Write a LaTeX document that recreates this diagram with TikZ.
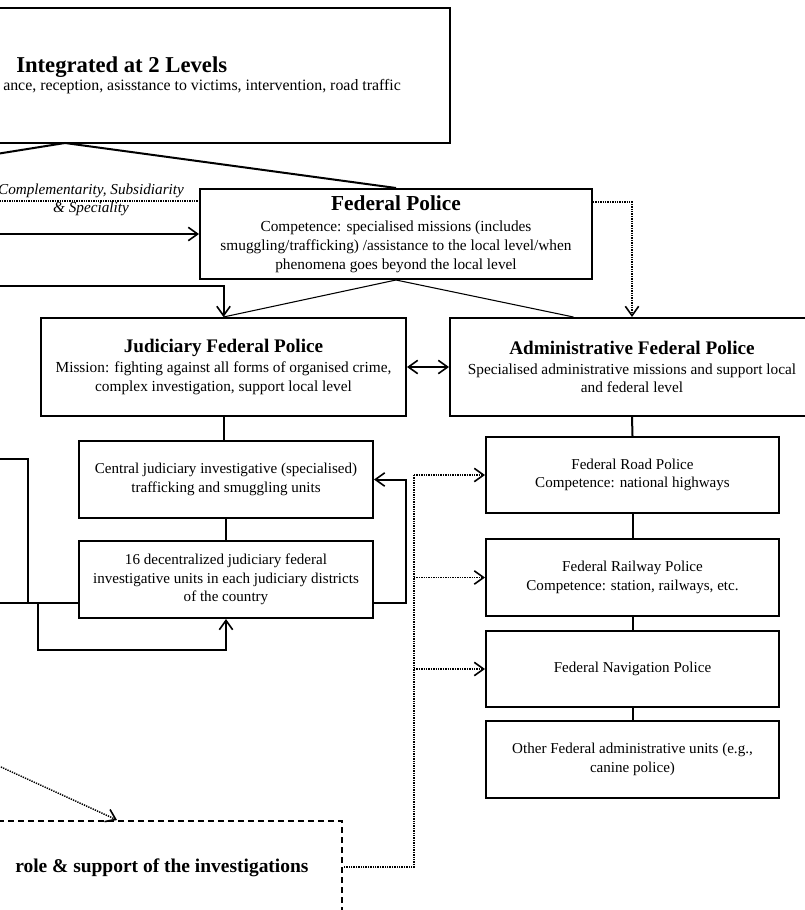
\documentclass[tikz,border=0pt]{standalone}
\usepackage{fontspec}
\setmainfont{Liberation Serif}
\usetikzlibrary{calc,arrows.meta}

\newcommand{\ttlfont}{\fontsize{14.4}{16}\selectfont\bfseries}

\begin{document}
\begin{tikzpicture}[x=0.75pt,y=-0.75pt,
  sz/.style 2 args={minimum width=#1*0.75pt,minimum height=#2*0.75pt},
  box/.style={draw,line width=1.5pt,align=center,inner sep=1pt,font=\fontsize{11.5}{14}\selectfont},
  unitbox/.style={box,font=\fontsize{11.3}{13.7}\selectfont},
  conn/.style={line width=1.5pt},
  fan/.style={line width=0.8pt},
  dots/.style={line width=1.1pt,dash pattern=on 1pt off 0.8pt},
  tip/.style={-{Straight Barb[length=7pt,width=10pt,line width=1.2pt]}},
  tips/.style={{Straight Barb[length=7pt,width=10pt,line width=1.2pt]}-{Straight Barb[length=7pt,width=10pt,line width=1.2pt]}}]
\useasboundingbox (0,0) rectangle (805,910);
\clip (0,0) rectangle (805,910);

% boxes
\node[box,sz={510}{135}] (lvl) at (195,75.5) {};
\node[anchor=base west,inner sep=0pt,font=\fontsize{17}{19}\selectfont\bfseries] (lvltitle) at (16,72) {Integrated at 2 Levels};
\node[anchor=base west,inner sep=0pt,font=\fontsize{11.9}{14}\selectfont] (lvltext) at (3,90) {ance, reception, asisstance to victims, intervention, road traffic};

\node[box,sz={392}{90}] (fed) at (396,234) {{\fontsize{16}{18}\selectfont\bfseries Federal Police}\\[2pt] Competence: specialised missions (includes\\ smuggling/trafficking) /assistance to the local level/when\\ phenomena goes beyond the local level};
\node[box,sz={365}{98}] (jud) at (223.5,367) {{\ttlfont Judiciary Federal Police}\\[1pt] Mission: fighting against all forms of organised crime,\\ complex investigation, support local level};
\node[box,sz={364}{98}] (adm) at (632,367) {{\ttlfont Administrative Federal Police}\\[1pt] Specialised administrative missions and support local\\ and federal level};

\node[unitbox,sz={294}{77}] (central) at (226,479.5) {Central judiciary investigative (specialised)\\ trafficking and smuggling units};
\node[unitbox,sz={294}{77}] (dec) at (226,579.5) {16 decentralized judiciary federal\\ investigative units in each judiciary districts\\ of the country};

\node[unitbox,sz={293}{76}] (road) at (632.5,475) {Federal Road Police\\ Competence: national highways};
\node[unitbox,sz={293}{77}] (rail) at (632.5,577.5) {Federal Railway Police\\ Competence: station, railways, etc.};
\node[unitbox,sz={293}{76}] (nav) at (632.5,669) {Federal Navigation Police};
\node[unitbox,sz={293}{77}] (other) at (632.5,759.5) {Other Federal administrative units (e.g.,\\ canine police)};

\node[draw,line width=1.5pt,dash pattern=on 4.5pt off 3pt,sz={402}{140}] (role) at (141,891) {};
\node[anchor=base west,inner sep=0pt,font=\fontsize{14.6}{16}\selectfont\bfseries] (roletext) at (15,872) {role \& support of the investigations};

\node[align=center,font=\fontsize{11.4}{13.5}\selectfont\itshape] (cslabel) at (91,200) {Complementarity, Subsidiarity\\ \& Speciality};

% connectors
\coordinate (tf) at (65,143);
\draw[conn] (-10,155) -- (tf) -- (fed.north);
\draw[dots] (-10,201) coordinate (csl) -- (csl -| fed.west);
\draw[conn,tip] (-10,234) -- (fed.west);
\draw[conn,tip] (-10,286) -| (jud.north);
\draw[fan] (fed.south) -- (jud.north);
\draw[fan] (fed.south) -- ($(adm.north west)!0.34!(adm.north east)$);
\draw[dots,tip] ($(fed.east)+(0,-32)$) -| (adm.north);
\draw[conn,tips] (jud.east) -- (adm.west);

\draw[conn] (jud.south) -- (jud.south |- central.north);
\draw[conn] (central.south) -- (dec.north);
\coordinate (dr) at ($(dec.east)+(0,23.5)$);
\draw[conn,tip] (dr) -- ++(32,0) |- (central.east);
\coordinate (dl) at ($(dec.west)+(0,23.5)$);
\draw[conn] (-10,459) -| (28,0 |- dl);
\draw[conn] (-10,0 |- dl) -- (dl);
\draw[conn,tip] (38,0 |- dl) -- (38,650) -| (dec.south);

\draw[conn] (adm.south) -- (road.north);
\draw[conn] (road.south) -- (rail.north);
\draw[conn] (rail.south) -- (nav.north);
\draw[conn] (nav.south) -- (other.north);

\coordinate (dv) at (414,0 |- road.west);
\draw[dots,tip] (dv) -- (road.west);
\draw[dots,tip] (dv |- rail.west) -- (rail.west);
\draw[dots,tip] (dv |- nav.west) -- (nav.west);
\draw[dots] (dv) |- ($(role.east)+(0,-24)$);
\draw[dots,tip] (-10,762) -- ($(role.north west)+(178,0)$);
\end{tikzpicture}
\end{document}
